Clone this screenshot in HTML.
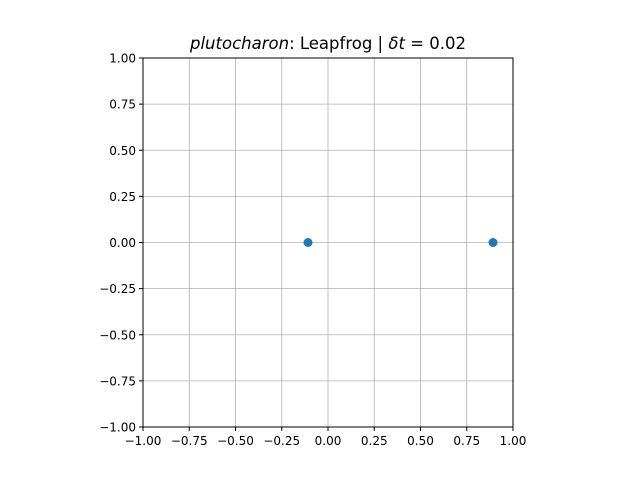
<!DOCTYPE html>
<html><head><meta charset="utf-8"><style>
body{margin:0;background:#fff;width:640px;height:480px;overflow:hidden}
svg{font-family:"DejaVu Sans","Liberation Sans",sans-serif}
</style></head><body>
<svg id="chart" width="640" height="480">
<rect width="640" height="480" fill="#fff"/>
<g id="grid"></g><g id="ticks"></g><g id="pts"></g>
<rect x="143" y="58" width="370" height="369" fill="none" stroke="#000" stroke-width="1"/>
<text x="328" y="49" text-anchor="middle" font-size="16.5"><tspan font-style="italic">plutocharon</tspan>: Leapfrog | <tspan font-style="italic">δt</tspan> = 0.02</text>
</svg>
<script>
const tickVals=[-1,-0.75,-0.5,-0.25,0,0.25,0.5,0.75,1];
const tickLabels=["−1.00","−0.75","−0.50","−0.25","0.00","0.25","0.50","0.75","1.00"];
const xs=[-0.108,0.892];
const ys=[0,0];
const NS="http://www.w3.org/2000/svg";
const L=143,R=513,T=58,B=427;
const sx=v=>L+(v+1)/2*(R-L), sy=v=>B-(v+1)/2*(B-T);
const grid=document.getElementById('grid'),ticks=document.getElementById('ticks'),pts=document.getElementById('pts');
function mk(tag,at,parent){const e=document.createElementNS(NS,tag);for(const k in at)e.setAttribute(k,at[k]);parent.appendChild(e);return e;}
tickVals.forEach((v,i)=>{
 const gx=mk('line',{x1:sx(v),x2:sx(v),y1:T,y2:B,stroke:'#b0b0b0','stroke-width':0.8},grid);
 
 
 const gy=mk('line',{x1:L,x2:R,y1:sy(v),y2:sy(v),stroke:'#b0b0b0','stroke-width':0.8},grid);
 
 
 mk('line',{x1:sx(v),x2:sx(v),y1:B,y2:B+4,stroke:'#000'},ticks);
 mk('line',{x1:L-4,x2:L,y1:sy(v),y2:sy(v),stroke:'#000'},ticks);
 const tx=mk('text',{x:sx(v),y:B+18,'text-anchor':'middle','font-size':12},ticks);
 tx.textContent=tickLabels[i];
 
 
 const ty=mk('text',{x:L-7,y:sy(v)+4.5,'text-anchor':'end','font-size':12},ticks);
 ty.textContent=tickLabels[i];
 
 
});
xs.forEach((x,i)=>{
 const c=mk('circle',{cx:sx(x),cy:sy(ys[i]),r:4.5,fill:'#1f77b4'},pts);
 
 
});
</script>
</body></html>
